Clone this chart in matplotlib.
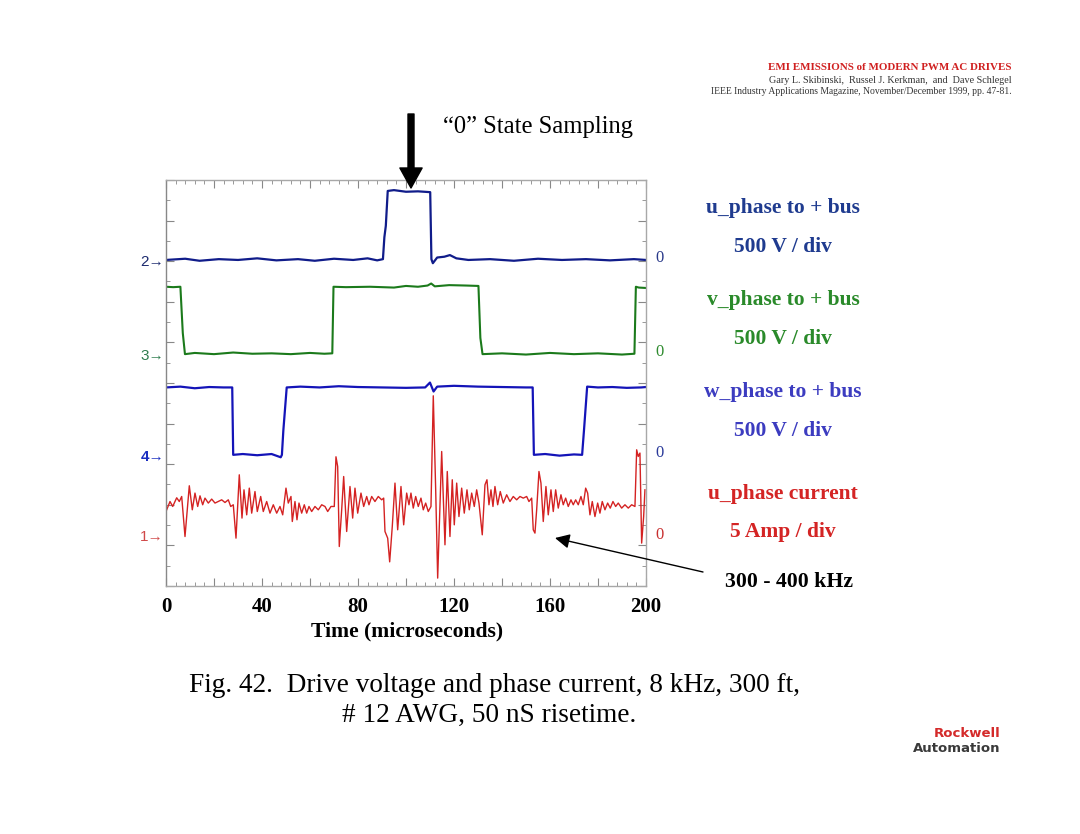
import matplotlib
matplotlib.use('Agg')
import matplotlib.pyplot as plt
import matplotlib.transforms as mtransforms
from matplotlib.ticker import MultipleLocator, FuncFormatter

# channel 2: u phase to + bus (volts)
u_t = [0, 8, 14, 22, 30, 38, 46, 55, 62, 70, 78, 84, 88, 90.4, 91.0, 91.6, 92.4,
       95, 100, 105, 110.1, 110.6, 111.2, 113, 116, 118.3, 121, 126, 135, 145,
       155, 165, 175, 185, 195, 200]
u_v = [0, 15, -10, 10, 0, 20, -5, 10, -10, 15, 0, 20, -5, 10, 280, 420, 850,
       860, 840, 845, 835, 10, -40, 30, 40, 60, 20, 0, 10, -10,
       15, 0, 10, -5, 10, 0]

# channel 3: v phase to + bus (volts)
v_t = [0, 3, 6.0, 7.0, 7.9, 12, 20, 28, 36, 44, 52, 60, 66, 69.3, 69.8, 75, 85,
       95, 100, 105, 109, 110.5, 112, 118, 125, 130.2, 131.0, 131.9, 140, 150,
       160, 170, 180, 190, 195.2, 195.8, 197, 200]
v_v = [830, 825, 830, 260, 0, 15, 0, 20, 5, 10, 0, 15, 5, 10, 830, 825, 830,
       820, 840, 830, 845, 870, 835, 850, 845, 840, 200, 0, 10, -5,
       15, 0, 10, -5, 5, 830, 820, 815]

# channel 4: w phase to + bus (volts)
w_t = [0, 6, 12, 18, 24, 27.6, 28.0, 32, 38, 44, 47.8, 48.3, 48.9, 50.3, 56, 64,
       72, 80, 90, 100, 108, 110, 111.5, 113, 120, 130, 140, 150, 152.8, 153.3,
       158, 164, 170, 173.4, 174.2, 175.5, 180, 186, 192, 198, 200]
w_v = [830, 840, 820, 835, 830, 830, 0, 10, -5, 10, -30, 0, 300, 830, 840, 830,
       845, 835, 830, 825, 830, 890, 780, 840, 850, 840, 835, 830, 830, 0,
       10, -10, 5, 0, 310, 840, 830, 835, 825, 830, 835]

# channel 1: u phase current (amps)
i_t = [0.0, 1.67, 2.79, 4.46, 5.54, 6.54, 7.92, 9.71, 10.96, 12.08, 13.21, 14.17,
       15.29, 16.25, 17.63, 19.04, 20.42, 21.79, 23.21, 24.58, 25.96, 26.96,
       28.04, 29.17, 30.54, 31.67, 32.5, 33.63, 34.71, 35.71, 37.08, 38.04,
       39.46, 40.54, 41.96, 43.33, 44.71, 46.13, 47.5, 48.63, 50.0, 50.96,
       52.08, 52.63, 53.75, 54.58, 55.42, 56.54, 57.63, 58.63, 59.58, 60.71,
       62.08, 63.46, 64.88, 66.25, 67.38, 68.75, 70.13, 70.83, 71.54, 72.21,
       73.21, 74.04, 75.29, 76.67, 77.79, 78.75, 79.88, 81.25, 82.38, 83.63,
       84.58, 85.71, 87.08, 88.46, 89.88, 90.71, 91.25, 92.38, 93.21, 94.29,
       95.42, 96.54, 97.92, 99.04, 100.29, 101.25, 102.08, 103.04, 104.04,
       105.13, 106.25, 107.21, 108.21, 109.29, 110.42, 111.38, 112.38, 113.21,
       114.88, 116.25, 117.21, 118.33, 119.29, 120.13, 121.13, 122.08, 123.21,
       124.29, 125.42, 126.38, 127.38, 128.46, 129.46, 130.42, 131.79, 132.92,
       133.75, 134.58, 135.42, 136.25, 137.08, 138.21, 139.29, 140.54, 141.96,
       143.33, 144.71, 146.13, 147.5, 148.88, 150.29, 151.25, 152.38, 153.04,
       153.75, 154.46, 155.42, 156.25, 157.21, 158.33, 159.29, 160.42, 161.38,
       162.38, 163.46, 164.58, 165.54, 166.54, 167.63, 168.75, 169.71, 170.71,
       171.79, 172.92, 173.88, 174.88, 175.71, 176.67, 177.63, 178.75, 179.88,
       180.83, 181.79, 182.92, 184.04, 185.13, 186.25, 187.38, 188.46, 189.88,
       191.25, 192.63, 194.04, 195.42, 196.13, 196.79, 197.5, 198.21, 199.04,
       199.58]
i_a = [2.87, 4.10, 3.49, 4.56, 4.10, 4.72, -0.21, 6.04, 3.08, 5.14, 3.49, 4.80,
       3.70, 4.52, 3.91, 4.40, 3.91, 4.10, 4.31, 3.98, 4.31, 3.49,
       3.70, -0.41, 7.39, 2.06, 5.54, 2.46, 5.75, 2.67, 5.33, 2.87,
       4.72, 2.87, 4.10, 2.67, 3.70, 2.67, 3.49, 2.46, 5.75, 3.91,
       4.72, 1.64, 4.10, 1.85, 3.91, 2.67, 3.70, 2.67, 3.49, 2.87,
       3.49, 3.08, 3.70, 3.49, 2.87, 3.49, 3.49, 9.61, 8.41, -1.44,
       3.08, 7.18, 0.41, 5.95, 2.06, 5.75, 2.67, 5.14, 3.49, 4.72,
       3.70, 4.72, 4.10, 4.72, 4.31, 4.52, 0.41, -0.41, -3.33, 1.02,
       6.37, 0.62, 5.95, 1.23, 5.14, 3.70, 5.14, 3.29, 4.72,
       3.49, 4.52, 3.08, 3.91, 2.87, 3.49, 17.12, 5.54, -5.33,
       10.26, -1.23, 7.80, -0.21, 6.78, 1.23, 6.37, 2.25, 5.75,
       2.67, 5.54, 3.08, 5.14, 3.49, 5.54, 3.91, 0.0, 6.16,
       6.78, 3.70, 5.54, 3.49, 5.95, 3.70, 5.33, 3.91, 4.93,
       4.10, 4.72, 4.31, 4.72, 4.52, 4.72, 4.10, 4.52, 0.62,
       0.21, 3.08, 7.80, 6.37, 1.64, 5.95, 2.46, 5.54, 2.87,
       5.54, 3.29, 4.93, 3.70, 4.52, 3.49, 4.31, 3.70, 4.31,
       3.70, 4.72, 3.70, 5.75, 5.14, 2.46, 4.10, 2.25, 3.91,
       2.67, 4.10, 3.08, 3.91, 3.29, 4.10, 3.49, 3.91, 3.29,
       3.70, 3.29, 3.70, 3.49, 10.47, 9.65, 10.07, -1.02, 2.25,
       5.54]

serif = 'Liberation Serif'
sans = ['Liberation Sans', 'DejaVu Sans']

volts_per_div = 500
amps_per_div = 5

# zero-level positions (in divisions) of each channel on the screen
zero_u, zero_v, zero_w, zero_i = 8.03, 5.71, 3.23, 1.26

fig = plt.figure(figsize=(10.8, 8.34), dpi=100)
ax = fig.add_axes([0.1537, 0.2974, 0.4444, 0.4868])

ax.plot(u_t, [zero_u + v / volts_per_div for v in u_v], color='#101c8a', lw=1.6)
ax.plot(v_t, [zero_v + v / volts_per_div for v in v_v], color='#1b7a1b', lw=1.5)
ax.plot(w_t, [zero_w + v / volts_per_div for v in w_v], color='#1414b8', lw=1.6)
ax.plot(i_t, [zero_i + a / amps_per_div for a in i_a], color='#d42222', lw=1.0)

ax.set_xlim(0, 200)
ax.set_ylim(0, 10)

ax.xaxis.set_major_locator(MultipleLocator(20))
ax.xaxis.set_minor_locator(MultipleLocator(4))
ax.xaxis.set_major_formatter(FuncFormatter(lambda v, p: '%d' % v if v % 40 == 0 else ''))
ax.yaxis.set_major_locator(MultipleLocator(1))
ax.yaxis.set_minor_locator(MultipleLocator(0.5))
ax.set_yticklabels([])
ax.tick_params(which='both', direction='in', top=True, right=True, color='#888888')
ax.tick_params(which='major', length=6, width=0.8)
ax.tick_params(which='minor', length=3, width=0.6)
ax.tick_params(axis='x', pad=8)
for lab in ax.get_xticklabels():
    lab.set_fontfamily(serif)
    lab.set_fontweight('bold')
    lab.set_fontsize(15)
for sp in ax.spines.values():
    sp.set_color('#a8a8a8')
    sp.set_linewidth(1.0)
ax.spines['left'].set_color('#888888')

# channel markers on the left and zero labels on the right
trans = mtransforms.blended_transform_factory(ax.transAxes, ax.transData)
markers = [('2\u2192', zero_u, '#1c2a6e', 'normal'),
           ('3\u2192', zero_v, '#2e7d4e', 'normal'),
           ('4\u2192', zero_w, '#1a2ec0', 'bold'),
           ('1\u2192', zero_i, '#d04848', 'normal')]
for txt, y, c, w in markers:
    ax.text(-0.004, y - 0.05, txt, transform=trans, ha='right', va='center',
            color=c, fontsize=11, fontweight=w, family=sans)
zeros = [(zero_u + 0.05, '#2a3a8a'), (zero_v + 0.05, '#2e8b2e'),
         (zero_w + 0.05, '#2a3a9a'), (zero_i, '#c83030')]
for y, c in zeros:
    ax.text(1.029, y, '0', transform=trans, ha='center', va='center',
            color=c, fontsize=12, family=serif)

# right-hand channel descriptions
right_labels = [('u_phase to + bus', 0.7506, '#1f3b8f'),
                ('500 V / div', 0.7038, '#1f3b8f'),
                ('v_phase to + bus', 0.6403, '#2a8a2a'),
                ('500 V / div', 0.5935, '#2a8a2a'),
                ('w_phase to + bus', 0.5300, '#3c3cc0'),
                ('500 V / div', 0.4832, '#3c3cc0'),
                ('u_phase current', 0.4077, '#d42424'),
                ('5 Amp / div', 0.3621, '#d42424')]
for txt, y, c in right_labels:
    fig.text(0.725, y, txt, ha='center', va='center', color=c,
             fontsize=15.5, fontweight='bold', family=serif)
fig.text(0.7306, 0.3022, '300 - 400 kHz', ha='center', va='center',
         color='black', fontsize=15.7, fontweight='bold', family=serif)

fig.text(0.3769, 0.2434, 'Time (microseconds)', ha='center', va='center',
         fontsize=15.6, fontweight='bold', family=serif)

# annotation arrows
ax.annotate('', xy=(555, 296), xycoords='figure pixels',
            xytext=(703, 262), textcoords='figure pixels',
            arrowprops=dict(arrowstyle='-|>', color='black', lw=1.0,
                            mutation_scale=22, shrinkA=0, shrinkB=0))
ax.annotate('', xy=(411, 646), xycoords='figure pixels',
            xytext=(411, 720), textcoords='figure pixels',
            arrowprops=dict(arrowstyle='simple,head_length=0.9,head_width=1.0,tail_width=0.27',
                            color='black', mutation_scale=16, shrinkA=0, shrinkB=0))
fig.text(0.410, 0.8477, '\u201c0\u201d State Sampling', ha='left', va='center',
         fontsize=17.7, family=serif)

# header
fig.text(0.937, 0.9185, 'EMI EMISSIONS of MODERN PWM AC DRIVES', ha='right',
         va='center', color='#d02020', fontsize=7.9, fontweight='bold', family=serif)
fig.text(0.937, 0.904, 'Gary L. Skibinski,  Russel J. Kerkman,  and  Dave Schlegel',
         ha='right', va='center', color='#333333', fontsize=7.3, family=serif)
fig.text(0.937, 0.8897, 'IEEE Industry Applications Magazine, November/December 1999, pp. 47-81.',
         ha='right', va='center', color='#333333', fontsize=6.9, family=serif)

# caption
fig.text(0.458, 0.1778, 'Fig. 42.  Drive voltage and phase current, 8 kHz, 300 ft,',
         ha='center', va='center', fontsize=19.6, family=serif)
fig.text(0.4528, 0.1418, '# 12 AWG, 50 nS risetime.', ha='center', va='center',
         fontsize=19.6, family=serif)

# logo
fig.text(0.926, 0.1207, 'Rockwell', ha='right', va='center', color='#d42a2a',
         fontsize=9.5, fontweight='bold', family='DejaVu Sans')
fig.text(0.926, 0.1027, 'Automation', ha='right', va='center', color='#3a3a3a',
         fontsize=9.5, fontweight='bold', family='DejaVu Sans')

fig.savefig('out.png', dpi=100, facecolor='white')
